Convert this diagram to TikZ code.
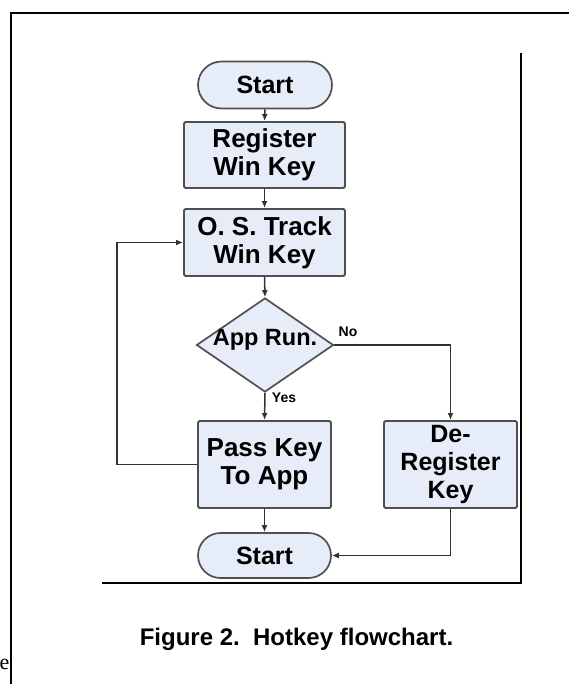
\documentclass[tikz,border=0pt]{standalone}
\usepackage{fontspec}
\setmainfont{Liberation Sans}
\newfontfamily\serifpart{Liberation Serif}
\usetikzlibrary{shapes.geometric,shapes.misc,arrows.meta}
\definecolor{boxfill}{RGB}{230,236,248}
\definecolor{boxline}{RGB}{80,80,80}
\definecolor{conline}{RGB}{50,50,50}
\tikzset{
  every node/.style={font=\fontsize{26pt}{28pt}\selectfont\bfseries, align=center, inner sep=0pt},
  procbox/.style={rectangle, rounded corners=1.5pt, draw=boxline, line width=1.9pt, fill=boxfill},
  termbox/.style={rounded rectangle, draw=boxline, line width=1.7pt, fill=boxfill, font=\fontsize{25pt}{27pt}\selectfont\bfseries},
  decbox/.style={diamond, draw=boxline, line width=1.7pt, fill=boxfill, font=\fontsize{23.5pt}{26pt}\selectfont\bfseries},
  conn/.style={draw=conline, line width=1.5pt, -{Latex[length=7pt,width=6pt]}},
  small/.style={font=\fontsize{14pt}{15pt}\selectfont\bfseries},
  frame/.style={draw=black, line width=2pt},
}
\begin{document}
\begin{tikzpicture}[x=1pt,y=-1pt]
\useasboundingbox (0,0) rectangle (569,684);
% outer page frame
\coordinate (of1) at (11,690);
\coordinate (of2) at (11,13);
\coordinate (of3) at (575,13);
\draw[frame] (of1) -- (of2) -- (of3);
% inner frame
\coordinate (if1) at (521,53);
\coordinate (if2) at (521,583);
\coordinate (if3) at (102,583);
\draw[frame, line width=1.8pt] (if1) -- (if2) -- (if3);
% nodes
\node[termbox, minimum width=134pt, minimum height=47pt] (start1) at (265,85) {Start};
\node[procbox, minimum width=161pt, minimum height=66pt] (reg) at (264.5,155) {Register\\Win Key};
\node[procbox, minimum width=161pt, minimum height=67pt] (track) at (264.5,242.5) {O. S. Track\\Win Key};
\node[decbox, minimum width=137pt, minimum height=94pt] (app) at (265,345) {\makebox[0pt]{\raisebox{0pt}[0pt][0pt]{App Run.}}};
\node[procbox, minimum width=133pt, minimum height=87pt] (pass) at (264.5,464.5) {Pass Key\\To App};
\node[procbox, minimum width=133pt, minimum height=87pt, font=\fontsize{25pt}{28pt}\selectfont\bfseries] (dereg) at (450.5,464.5) {De-\\Register\\Key};
\node[termbox, minimum width=133pt, minimum height=45pt] (start2) at (264.5,555.5) {Start};
% labels
\node[small] (yes) at (284,398) {Yes};
\node[small] (no) at (348,332) {No};
% connectors
\draw[conn] (start1.south) -- (reg.north);
\draw[conn] (reg.south) -- (track.north);
\draw[conn] (track.south) -- (app.north);
\draw[conn] (app.south) -- (pass.north);
\draw[conn] (app.east) -| (dereg.north);
\draw[conn] (pass.west) -- ++(-80,0) |- (track.west);
\draw[conn] (pass.south) -- (start2.north);
\draw[conn] (dereg.south) |- (start2.east);
% caption
\node[font=\fontsize{24pt}{26pt}\selectfont\bfseries, anchor=base] (cap) at (296.5,645) {Figure 2.\ \ Hotkey flowchart.};
% page text fragment
\node[font=\fontsize{22pt}{24pt}\selectfont\serifpart\mdseries, anchor=base east] (frag) at (9.5,669) {fe};
\end{tikzpicture}
\end{document}
